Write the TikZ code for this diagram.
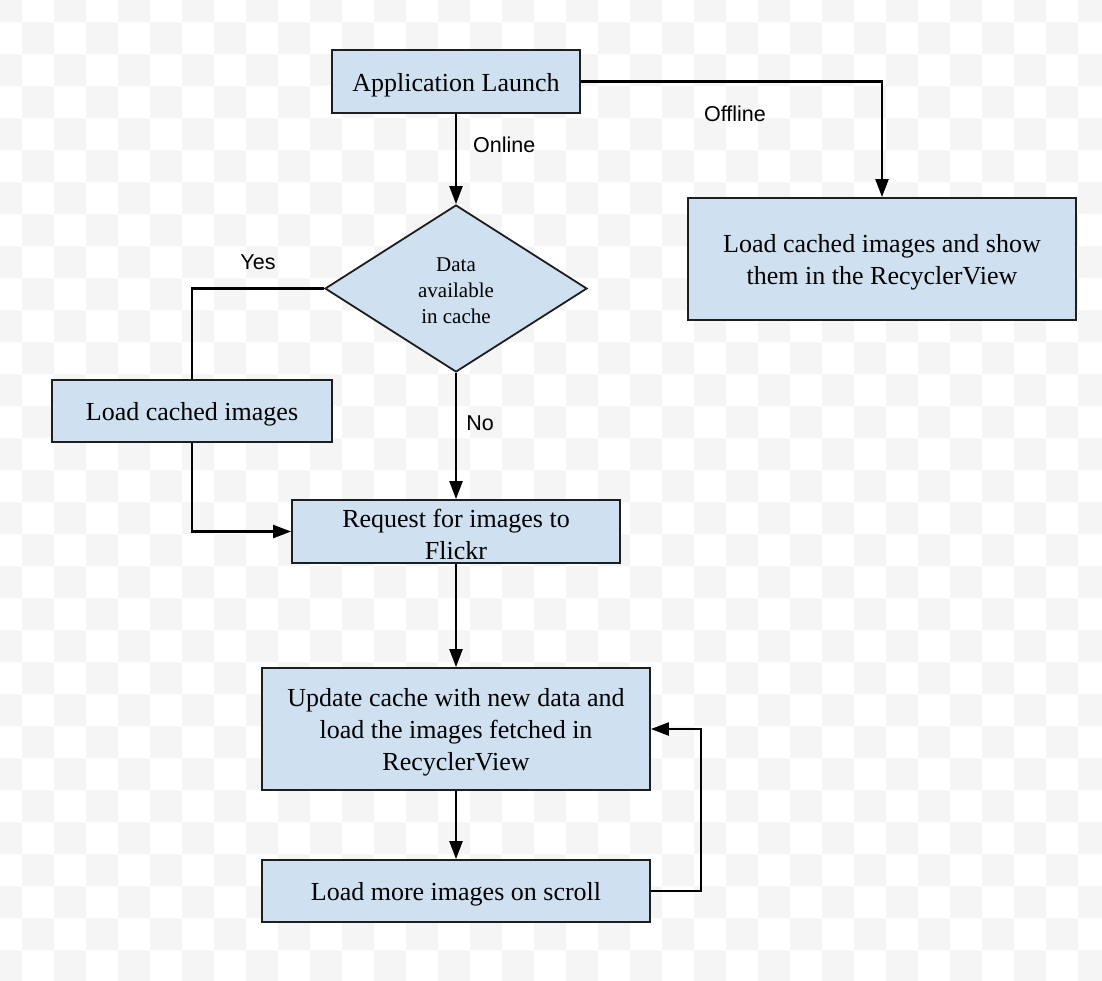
\documentclass[tikz,border=0pt]{standalone}
\usepackage{fontspec}
\setmainfont{Liberation Serif}
\newfontfamily\lblfont{Liberation Sans}
\usetikzlibrary{shapes.geometric,arrows.meta}
\definecolor{boxfill}{HTML}{CFE0F1}
\definecolor{boxline}{HTML}{1E1E1E}
\definecolor{checker}{HTML}{F5F5F5}
\tikzset{
  procbox/.style={draw=boxline, fill=boxfill, line width=1.8pt, rectangle, inner sep=0pt},
  decbox/.style={draw=boxline, fill=boxfill, line width=1.8pt, diamond, inner sep=0pt},
  boxtext/.style={align=center, inner sep=0pt, font=\fontsize{26}{32}\selectfont},
  dectext/.style={align=center, inner sep=0pt, font=\fontsize{21}{26}\selectfont},
  conn/.style={draw=black, line width=2.2pt},
  arr/.style={conn, -{Triangle[length=18pt,width=13pt]}},
  lbl/.style={font=\lblfont\fontsize{21.5}{26}\selectfont, inner sep=0pt}
}
\begin{document}
\begin{tikzpicture}[x=1pt,y=-1pt]
\useasboundingbox (0,0) rectangle (1102,980);
\begin{scope}
\clip (0,0) rectangle (1102,980);
\fill[white] (0,0) rectangle (1102,980);
\foreach \i in {0,...,31}{
  \foreach \j in {0,...,35}{
    \pgfmathtruncatemacro\chk{mod(\i+\j,2)}
    \ifnum\chk=0
      \fill[checker] (-10+32*\j,-10+32*\i) rectangle (22+32*\j,22+32*\i);
    \fi
  }
}
\end{scope}

\node[procbox, minimum width=248pt, minimum height=63pt] (app) at (456,81.5) {};
\node[boxtext] (appT) at ([yshift=-3.5pt]app.center) {Application Launch};
\node[procbox, minimum width=388pt, minimum height=122pt] (off) at (882,259) {};
\node[boxtext] (offT) at ([yshift=-3pt]off.center) {Load cached images and show\\them in the RecyclerView};
\node[decbox, minimum width=262pt, minimum height=167pt] (dia) at (456,288.5) {};
\node[dectext] (diaT) at ([yshift=-2.5pt]dia.center) {Data\\available\\in cache};
\node[procbox, minimum width=280pt, minimum height=62pt] (loadc) at (192,411) {};
\node[boxtext] (loadcT) at ([yshift=-3.5pt]loadc.center) {Load cached images};
\node[procbox, minimum width=328pt, minimum height=63pt] (req) at (456,531.5) {};
\node[boxtext] (reqT) at ([yshift=-2.5pt]req.center) {Request for images to\\Flickr};
\node[procbox, minimum width=388pt, minimum height=122pt] (upd) at (456,729) {};
\node[boxtext] (updT) at ([yshift=-3.5pt]upd.center) {Update cache with new data and\\load the images fetched in\\RecyclerView};
\node[procbox, minimum width=388pt, minimum height=62pt] (more) at (456,891) {};
\node[boxtext] (moreT) at ([yshift=-3.5pt]more.center) {Load more images on scroll};

\node[lbl, anchor=west] (online) at (473,145) {Online};
\node[lbl] (offline) at (735,114) {Offline};
\node[lbl] (yes) at (258,262) {Yes};
\node[lbl] (no) at (480,423) {No};

\draw[arr] (app.south) -- (dia.north);
\draw[arr] (app.east) -| (off.north);
\draw[conn] (dia.west) -| (loadc.north);
\draw[arr] (loadc.south) |- (req.west);
\draw[arr] (dia.south) -- (req.north);
\draw[arr] (req.south) -- (upd.north);
\draw[arr] (upd.south) -- (more.north);
\draw[arr] (more.east) -- ++(50,0) |- (upd.east);
\end{tikzpicture}
\end{document}
